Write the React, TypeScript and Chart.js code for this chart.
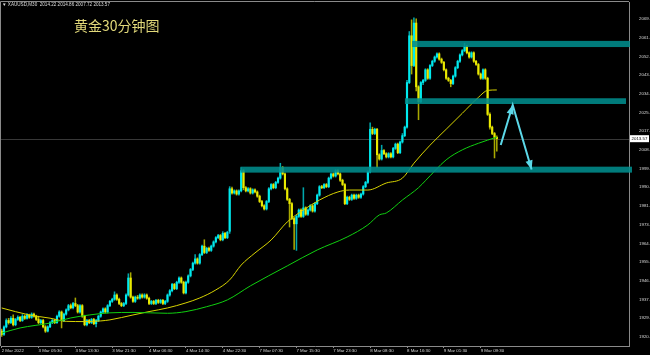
import { useEffect, useRef } from 'react';
import { Chart, registerables } from 'chart.js';

Chart.register(...registerables);

// ---- OHLC candles, XAUUSD M30 (bar index 0 = first visible bar) ----
const opens = [
  1923.0, 1921.5, 1925.0, 1928.0, 1927.0, 1929.0, 1926.0, 1928.5, 1929.5, 1928.0,
  1930.0, 1929.0, 1930.5, 1929.5, 1931.0, 1930.0, 1928.5, 1927.0, 1928.0, 1925.0,
  1923.0, 1925.0, 1927.0, 1928.0, 1927.0, 1930.0, 1932.0, 1928.0, 1931.0, 1933.0,
  1935.0, 1934.0, 1936.0, 1935.0, 1932.0, 1935.0, 1930.0, 1926.0, 1928.0, 1927.0,
  1928.5, 1926.5, 1928.0, 1930.0, 1932.0, 1933.5, 1932.0, 1935.0, 1937.0, 1938.0,
  1940.0, 1938.0, 1936.0, 1935.0, 1936.0, 1940.0, 1948.0, 1939.0, 1937.0, 1939.0,
  1938.5, 1940.0, 1939.0, 1940.0, 1938.5, 1936.0, 1937.0, 1936.0, 1937.5, 1936.5,
  1937.5, 1936.0, 1937.0, 1940.0, 1942.0, 1945.0, 1943.0, 1946.0, 1948.0, 1946.0,
  1941.0, 1946.0, 1949.0, 1952.0, 1955.0, 1957.0, 1955.0, 1959.0, 1963.0, 1960.0,
  1962.0, 1961.0, 1963.0, 1965.0, 1967.0, 1968.0, 1966.0, 1969.0, 1967.0, 1970.0,
  1990.0, 1988.0, 1989.0, 1987.5, 1989.0, 1998.5, 1990.5, 1989.0, 1990.0, 1988.0,
  1989.5, 1988.5, 1986.5, 1984.0, 1982.0, 1980.5, 1984.0, 1990.0, 1992.0, 1990.5,
  1993.0, 1995.0, 2000.0, 1997.0, 1990.0, 1985.0, 1983.0, 1976.0, 1973.5, 1977.0,
  1980.0, 1977.0, 1981.0, 1978.0, 1980.0, 1982.0, 1979.5, 1983.0, 1987.0, 1991.0,
  1990.5, 1992.0, 1991.0, 1995.0, 1997.0, 1996.0, 1998.5, 1997.0, 1994.0, 1992.0,
  1983.0, 1986.0, 1985.0, 1987.0, 1985.5, 1987.0, 1986.0, 1987.5, 1991.0, 1993.0,
  1998.0, 2018.0, 2016.0, 2018.0, 2006.0, 2004.0, 2008.0, 2006.5, 2005.0, 2006.5,
  2005.0, 2009.0, 2011.0, 2007.0, 2012.0, 2015.0, 2019.0, 2040.0, 2062.0, 2048.0,
  2068.0, 2038.0, 2031.0, 2040.0, 2041.0, 2046.0, 2042.0, 2048.0, 2050.0, 2052.0,
  2053.5, 2051.0, 2049.5, 2046.0, 2042.0, 2041.0, 2039.5, 2043.0, 2047.0, 2050.0,
  2053.0, 2055.0, 2057.0, 2054.0, 2052.0, 2054.0, 2050.0, 2048.5, 2044.0, 2042.0,
  2046.0, 2042.0, 2025.0, 2019.0, 2016.0, 2014.22,
];

const highs = [
  1924.0, 1925.5, 1928.8, 1929.0, 1929.8, 1930.7, 1929.0, 1930.2, 1930.0, 1930.8,
  1930.6, 1931.2, 1931.0, 1931.6, 1931.5, 1930.5, 1930.0, 1928.6, 1928.5, 1925.6,
  1925.5, 1927.5, 1928.5, 1928.6, 1930.5, 1932.6, 1932.5, 1931.5, 1933.5, 1935.6,
  1935.8, 1936.6, 1938.6, 1935.6, 1935.5, 1935.5, 1930.5, 1928.5, 1928.6, 1929.0,
  1929.0, 1928.5, 1930.5, 1932.5, 1934.0, 1934.0, 1935.5, 1937.5, 1938.5, 1941.5,
  1940.5, 1938.5, 1936.5, 1936.5, 1940.5, 1950.0, 1950.5, 1939.5, 1939.5, 1939.8,
  1940.5, 1940.6, 1940.6, 1940.5, 1939.0, 1937.5, 1937.5, 1938.0, 1938.0, 1938.0,
  1938.0, 1937.5, 1940.5, 1942.5, 1945.5, 1945.5, 1946.5, 1948.6, 1948.5, 1946.5,
  1946.5, 1949.5, 1952.5, 1955.5, 1959.0, 1957.5, 1959.5, 1963.5, 1966.0, 1962.5,
  1962.5, 1963.5, 1965.5, 1967.5, 1968.5, 1968.5, 1969.8, 1969.5, 1970.0, 1991.0,
  1990.8, 1989.5, 1989.5, 1989.5, 2000.0, 1999.0, 1991.0, 1990.5, 1990.5, 1990.0,
  1990.0, 1989.0, 1987.0, 1984.5, 1982.5, 1984.5, 1990.5, 1992.5, 1992.5, 1993.5,
  1995.5, 2002.0, 2000.5, 1997.5, 1990.5, 1985.5, 1983.5, 1976.5, 1977.5, 1980.5,
  1980.5, 1990.5, 1981.5, 1980.5, 1982.5, 1982.5, 1983.5, 1987.5, 1991.5, 1991.6,
  1992.5, 1992.5, 1995.5, 1997.5, 1997.5, 1999.0, 1999.0, 1997.5, 1994.5, 1992.5,
  1986.5, 1986.5, 1987.5, 1987.5, 1987.5, 1987.5, 1988.0, 1991.5, 1993.5, 1998.5,
  2021.0, 2019.0, 2018.5, 2018.5, 2006.5, 2010.5, 2008.5, 2007.0, 2007.0, 2007.0,
  2009.5, 2011.5, 2011.5, 2012.5, 2016.0, 2019.5, 2041.0, 2064.0, 2069.5, 2070.5,
  2070.0, 2038.5, 2040.5, 2041.5, 2046.5, 2046.5, 2048.5, 2050.5, 2052.5, 2054.0,
  2054.0, 2051.5, 2050.0, 2046.5, 2042.5, 2041.5, 2043.5, 2047.5, 2050.5, 2053.5,
  2055.5, 2058.5, 2057.5, 2054.5, 2054.5, 2054.5, 2050.5, 2049.0, 2044.5, 2046.5,
  2046.5, 2042.5, 2025.7, 2019.5, 2016.5, 2014.86,
];

const lows = [
  1920.5, 1921.0, 1924.5, 1926.3, 1926.5, 1925.5, 1925.5, 1928.0, 1927.5, 1927.6,
  1928.5, 1928.6, 1929.0, 1929.0, 1929.6, 1928.0, 1926.5, 1926.5, 1924.5, 1922.4,
  1922.6, 1924.6, 1926.5, 1926.5, 1926.6, 1929.5, 1924.5, 1927.5, 1930.5, 1932.5,
  1933.5, 1933.5, 1934.5, 1931.5, 1931.5, 1929.5, 1925.5, 1925.5, 1926.5, 1926.5,
  1926.0, 1925.0, 1927.5, 1929.5, 1931.5, 1931.5, 1931.5, 1934.5, 1936.5, 1937.5,
  1937.5, 1935.5, 1934.5, 1934.5, 1935.5, 1939.5, 1938.5, 1936.5, 1936.5, 1938.0,
  1938.0, 1938.5, 1938.5, 1938.0, 1935.5, 1935.5, 1935.5, 1935.5, 1936.0, 1936.0,
  1935.5, 1935.5, 1936.5, 1939.5, 1941.5, 1942.5, 1942.5, 1945.5, 1945.5, 1940.5,
  1940.5, 1945.5, 1948.5, 1951.5, 1954.5, 1954.5, 1954.5, 1958.5, 1959.5, 1959.5,
  1960.5, 1960.5, 1962.5, 1964.5, 1966.5, 1965.5, 1965.5, 1966.5, 1966.5, 1969.0,
  1987.5, 1987.5, 1987.0, 1987.0, 1988.5, 1989.5, 1988.5, 1988.5, 1987.5, 1987.5,
  1988.0, 1986.0, 1983.5, 1981.5, 1980.0, 1980.0, 1983.5, 1989.5, 1990.0, 1990.0,
  1992.5, 1994.5, 1996.5, 1989.5, 1984.5, 1972.0, 1975.5, 1961.5, 1961.0, 1976.5,
  1976.5, 1976.5, 1977.5, 1977.5, 1979.5, 1979.0, 1979.0, 1982.5, 1986.5, 1990.0,
  1990.0, 1990.5, 1990.5, 1994.5, 1995.5, 1995.5, 1996.5, 1993.5, 1991.5, 1982.5,
  1982.5, 1984.5, 1984.5, 1985.0, 1985.0, 1985.5, 1985.5, 1987.0, 1990.5, 1992.5,
  1997.5, 2015.5, 2015.5, 2000.0, 2003.5, 2003.5, 2006.0, 2004.5, 2004.5, 2004.5,
  2004.5, 2008.5, 2006.5, 2006.5, 2011.5, 2014.5, 2018.5, 2039.5, 2044.0, 2047.5,
  2036.0, 2022.5, 2030.5, 2039.0, 2040.5, 2041.5, 2041.5, 2047.5, 2049.5, 2051.5,
  2050.5, 2049.0, 2045.5, 2041.5, 2040.5, 2038.0, 2039.0, 2042.5, 2046.5, 2049.5,
  2052.5, 2054.5, 2053.5, 2051.5, 2051.5, 2049.5, 2048.0, 2043.5, 2041.5, 2041.5,
  2041.5, 2024.5, 2018.0, 2015.5, 2004.5, 2007.72,
];

const closes = [
  1921.5, 1925.0, 1928.0, 1927.0, 1929.0, 1926.0, 1928.5, 1929.5, 1928.0, 1930.0,
  1929.0, 1930.5, 1929.5, 1931.0, 1930.0, 1928.5, 1927.0, 1928.0, 1925.0, 1923.0,
  1925.0, 1927.0, 1928.0, 1927.0, 1930.0, 1932.0, 1928.0, 1931.0, 1933.0, 1935.0,
  1934.0, 1936.0, 1935.0, 1932.0, 1935.0, 1930.0, 1926.0, 1928.0, 1927.0, 1928.5,
  1926.5, 1928.0, 1930.0, 1932.0, 1933.5, 1932.0, 1935.0, 1937.0, 1938.0, 1940.0,
  1938.0, 1936.0, 1935.0, 1936.0, 1940.0, 1948.0, 1939.0, 1937.0, 1939.0, 1938.5,
  1940.0, 1939.0, 1940.0, 1938.5, 1936.0, 1937.0, 1936.0, 1937.5, 1936.5, 1937.5,
  1936.0, 1937.0, 1940.0, 1942.0, 1945.0, 1943.0, 1946.0, 1948.0, 1946.0, 1941.0,
  1946.0, 1949.0, 1952.0, 1955.0, 1957.0, 1955.0, 1959.0, 1963.0, 1960.0, 1962.0,
  1961.0, 1963.0, 1965.0, 1967.0, 1968.0, 1966.0, 1969.0, 1967.0, 1969.5, 1990.0,
  1988.0, 1989.0, 1987.5, 1989.0, 1998.5, 1990.5, 1989.0, 1990.0, 1988.0, 1989.5,
  1988.5, 1986.5, 1984.0, 1982.0, 1980.5, 1984.0, 1990.0, 1992.0, 1990.5, 1993.0,
  1995.0, 2000.0, 1997.0, 1990.0, 1985.0, 1983.0, 1976.0, 1973.5, 1977.0, 1980.0,
  1977.0, 1981.0, 1978.0, 1980.0, 1982.0, 1979.5, 1983.0, 1987.0, 1991.0, 1990.5,
  1992.0, 1991.0, 1995.0, 1997.0, 1996.0, 1998.5, 1997.0, 1994.0, 1992.0, 1983.0,
  1986.0, 1985.0, 1987.0, 1985.5, 1987.0, 1986.0, 1987.5, 1991.0, 1993.0, 1998.0,
  2018.0, 2016.0, 2018.0, 2006.0, 2004.0, 2008.0, 2006.5, 2005.0, 2006.5, 2005.0,
  2009.0, 2011.0, 2007.0, 2012.0, 2015.0, 2019.0, 2040.0, 2062.0, 2048.0, 2068.0,
  2038.0, 2031.0, 2040.0, 2041.0, 2046.0, 2042.0, 2048.0, 2050.0, 2052.0, 2053.5,
  2051.0, 2049.5, 2046.0, 2042.0, 2041.0, 2039.5, 2043.0, 2047.0, 2050.0, 2053.0,
  2055.0, 2057.0, 2054.0, 2052.0, 2054.0, 2050.0, 2048.5, 2044.0, 2042.0, 2046.0,
  2042.0, 2025.0, 2019.0, 2016.0, 2014.22, 2013.57,
];

// ---- moving averages (at sample bars) ----
const yellowIdx = [0, 12, 21, 28, 36, 43, 47, 57, 64, 72, 80, 86, 93, 99, 104, 110, 117, 124, 131, 138, 146, 151, 159, 167, 174, 179, 186, 193, 200, 207, 211, 215];
const yellowVal = [1933.9, 1930.6, 1929.1, 1927.6, 1927.5, 1927.8, 1928.3, 1930.6, 1932.2, 1933.9, 1936.3, 1938.6, 1942.4, 1947.1, 1954.1, 1959.8, 1965.9, 1974.4, 1980.0, 1984.7, 1988.5, 1989.4, 1989.4, 1992.7, 1995.0, 2002.0, 2010.5, 2018.0, 2025.5, 2033.0, 2036.3, 2036.5];
const greenIdx = [0, 8, 21, 30, 38, 47, 57, 72, 80, 89, 98, 108, 124, 137, 150, 159, 164, 167, 174, 181, 184, 193, 200, 207, 215];
const greenVal = [1922.1, 1924.5, 1926.8, 1929.2, 1930.6, 1931.6, 1931.8, 1931.4, 1932.2, 1934.5, 1937.7, 1944.3, 1953.7, 1961.2, 1967.3, 1973.0, 1977.7, 1978.6, 1984.7, 1990.5, 1993.8, 2003.6, 2008.3, 2011.4, 2014.3];

// ---- drawn objects ----
const arrowIdx = [216.7, 221.9, 230.1];
const arrowVal = [2010.6, 2029.4, 1999.1];
const bandStart = [178.2, 175.1, 103.7];
const bandEnd = [272.8, 271.1, 273.7];
const bandLow = [2056.7, 2029.9, 1997.6];
const bandHigh = [2059.6, 2032.6, 2000.4];
const lastPrice = 2013.57;

// ---- axes ----
const xTickIdx = [0, 16, 32, 48, 64, 80, 96, 112, 128, 144, 160, 176, 192, 208];
const xTickLabels = ['2 Mar 2022', '3 Mar 05:30', '3 Mar 13:30', '3 Mar 21:30', '4 Mar 06:30', '4 Mar 14:30', '4 Mar 22:30', '7 Mar 07:30', '7 Mar 15:30', '7 Mar 23:30', '8 Mar 08:30', '8 Mar 16:30', '9 Mar 01:30', '9 Mar 09:30'];
const yTicks = [1920.4, 1929.1, 1937.9, 1946.7, 1955.5, 1964.3, 1973.1, 1981.9, 1990.7, 1999.5, 2008.3, 2017.1, 2025.9, 2034.7, 2043.5, 2052.3, 2061.1, 2069.9];
const X_MIN = -0.3;
const X_MAX = 272.4;
const Y_MIN = 1916.0;
const Y_MAX = 2077.9;

const BULL = '#00eaee';
const BEAR = '#eaea00';
const BULL_WICK = '#00a8ac';
const BEAR_WICK = '#a8a800';
const ARROW = '#5cd8e8';
const FRAME = '#8a8a8a';
const AXIS_FONT = { family: '"Liberation Sans", Arial, sans-serif', size: 4.4 };

const overlayPlugin = {
  id: 'mtOverlay',
  beforeDatasetsDraw(chart: any) {
    const { ctx, chartArea, scales } = chart;
    const py = Math.round(scales.y.getPixelForValue(lastPrice)) + 0.5;
    ctx.save();
    ctx.strokeStyle = '#383838';
    ctx.lineWidth = 1;
    ctx.beginPath();
    ctx.moveTo(chartArea.left, py);
    ctx.lineTo(chartArea.right, py);
    ctx.stroke();
    ctx.restore();
  },
  afterDatasetDraw(chart: any, args: any) {
    const ds = chart.data.datasets[args.index];
    if (!ds || ds.label !== 'MA green') return;
    const { ctx, scales } = chart;
    ctx.save();
    ctx.fillStyle = 'rgba(0,140,140,0.88)';
    for (let k = 0; k < bandStart.length; k++) {
      const x0 = scales.x.getPixelForValue(bandStart[k]);
      const x1 = scales.x.getPixelForValue(bandEnd[k]);
      const y0 = scales.y.getPixelForValue(bandHigh[k]);
      const y1 = scales.y.getPixelForValue(bandLow[k]);
      ctx.fillRect(x0, y0, x1 - x0, y1 - y0);
    }
    ctx.restore();
  },
  afterDraw(chart: any) {
    const { ctx, chartArea, scales } = chart;
    ctx.save();
    // frame top / left
    ctx.strokeStyle = FRAME;
    ctx.lineWidth = 1;
    ctx.beginPath();
    ctx.moveTo(chartArea.left - 0.5, chartArea.bottom);
    ctx.lineTo(chartArea.left - 0.5, chartArea.top - 0.5);
    ctx.lineTo(chartArea.right, chartArea.top - 0.5);
    ctx.stroke();
    // arrow heads
    const meta = chart.getDatasetMeta(chart.data.datasets.findIndex((d: any) => d.label === 'arrow'));
    const pts = meta.data;
    ctx.fillStyle = ARROW;
    for (let k = 1; k < pts.length; k++) {
      const a = pts[k - 1];
      const b = pts[k];
      const ang = Math.atan2(b.y - a.y, b.x - a.x);
      const L = 9;
      const W = 3.6;
      ctx.beginPath();
      ctx.moveTo(b.x, b.y);
      ctx.lineTo(b.x - L * Math.cos(ang) + W * Math.sin(ang), b.y - L * Math.sin(ang) - W * Math.cos(ang));
      ctx.lineTo(b.x - L * Math.cos(ang) - W * Math.sin(ang), b.y - L * Math.sin(ang) + W * Math.cos(ang));
      ctx.closePath();
      ctx.fill();
    }
    // last price label
    const py = scales.y.getPixelForValue(lastPrice);
    ctx.fillStyle = '#ffffff';
    ctx.fillRect(chartArea.right + 1, py - 3.5, 19, 7);
    ctx.fillStyle = '#000000';
    ctx.font = '4.4px "Liberation Sans", Arial, sans-serif';
    ctx.textBaseline = 'middle';
    ctx.textAlign = 'left';
    ctx.fillText(lastPrice.toFixed(2), chartArea.right + 2.5, py);
    ctx.restore();
  },
};

export default function App() {
  const canvasRef = useRef<HTMLCanvasElement | null>(null);

  useEffect(() => {
    const canvas = canvasRef.current;
    if (!canvas) return;
    const wickData = highs.map((h, i) => ({ x: i, y: [lows[i], h] }));
    const bodyData = opens.map((o, i) => ({ x: i, y: [o, closes[i]] }));
    const isUp = (i: number) => closes[i] >= opens[i];

    const chart = new Chart(canvas, {
      type: 'bar',
      data: {
        datasets: [
          {
            type: 'bar',
            label: 'wicks',
            data: wickData as any,
            backgroundColor: (c: any) => (isUp(c.dataIndex) ? BULL_WICK : BEAR_WICK),
            barThickness: 0.9,
            grouped: false,
            order: 6,
          } as any,
          {
            type: 'bar',
            label: 'bodies',
            data: bodyData as any,
            backgroundColor: (c: any) => (isUp(c.dataIndex) ? BULL : BEAR),
            barThickness: 1.5,
            minBarLength: 1,
            grouped: false,
            order: 5,
          } as any,
          {
            type: 'line',
            label: 'MA yellow',
            data: yellowIdx.map((x, k) => ({ x, y: yellowVal[k] })) as any,
            borderColor: '#d8d400',
            borderWidth: 1,
            pointRadius: 0,
            cubicInterpolationMode: 'monotone',
            order: 4,
          } as any,
          {
            type: 'line',
            label: 'MA green',
            data: greenIdx.map((x, k) => ({ x, y: greenVal[k] })) as any,
            borderColor: '#10d010',
            borderWidth: 1,
            pointRadius: 0,
            cubicInterpolationMode: 'monotone',
            order: 3,
          } as any,
          {
            type: 'line',
            label: 'arrow',
            data: arrowIdx.map((x, k) => ({ x, y: arrowVal[k] })) as any,
            borderColor: ARROW,
            borderWidth: 2,
            pointRadius: 0,
            tension: 0,
            clip: false,
            order: 1,
          } as any,
        ],
      },
      options: {
        responsive: false,
        animation: false,
        devicePixelRatio: 1,
        events: [],
        layout: { padding: { left: 1, top: 2, right: 0, bottom: 0 } },
        plugins: {
          legend: { display: false },
          tooltip: { enabled: false },
          title: { display: false },
        },
        scales: {
          x: {
            type: 'linear',
            min: X_MIN,
            max: X_MAX,
            offset: false,
            grid: { display: true, drawOnChartArea: false, drawTicks: true, tickLength: 2, color: FRAME, offset: false },
            border: { display: true, color: FRAME, width: 1 },
            ticks: {
              autoSkip: false,
              maxRotation: 0,
              minRotation: 0,
              align: 'start',
              padding: 0,
              color: '#d8d8d8',
              font: AXIS_FONT,
              callback: (_v: any, i: number) => xTickLabels[i] ?? '',
            },
            afterBuildTicks: (s: any) => {
              s.ticks = xTickIdx.map((v) => ({ value: v }));
            },
            afterFit: (s: any) => {
              s.height = 9;
              s.paddingLeft = 0;
              s.paddingRight = 0;
            },
          } as any,
          y: {
            type: 'linear',
            position: 'right',
            min: Y_MIN,
            max: Y_MAX,
            grid: { display: false },
            border: { display: true, color: FRAME, width: 1 },
            ticks: {
              autoSkip: false,
              padding: 2,
              crossAlign: 'near',
              color: '#d8d8d8',
              font: AXIS_FONT,
              callback: (v: any) => Number(v).toFixed(2),
            },
            afterBuildTicks: (s: any) => {
              s.ticks = yTicks.map((v) => ({ value: v }));
            },
            afterFit: (s: any) => {
              s.width = 21;
              s.paddingTop = 0;
              s.paddingBottom = 0;
            },
          } as any,
        },
      },
      plugins: [overlayPlugin as any],
    });
    return () => chart.destroy();
  }, []);

  return (
    <div style={{ position: 'fixed', left: 0, top: 0, width: 650, height: 355, background: '#000', overflow: 'hidden' }}>
      <canvas ref={canvasRef} width={650} height={355} style={{ position: 'absolute', left: 0, top: 0, width: 650, height: 355 }} />
      <div
        style={{
          position: 'absolute',
          left: 2,
          top: 2,
          fontFamily: '"Liberation Sans", Arial, sans-serif',
          fontSize: 4.6,
          lineHeight: '5px',
          color: '#dcdcdc',
          whiteSpace: 'pre',
        }}
      >
        {'▼ XAUUSD,M30  2014.22 2014.86 2007.72 2013.57'}
      </div>
      <div
        style={{
          position: 'absolute',
          left: 74,
          top: 16,
          fontFamily: '"Noto Sans CJK SC", sans-serif',
          fontSize: 14,
          lineHeight: '18px',
          color: '#e2d97a',
          whiteSpace: 'pre',
        }}
      >
        黄金30分钟图
      </div>
    </div>
  );
}
